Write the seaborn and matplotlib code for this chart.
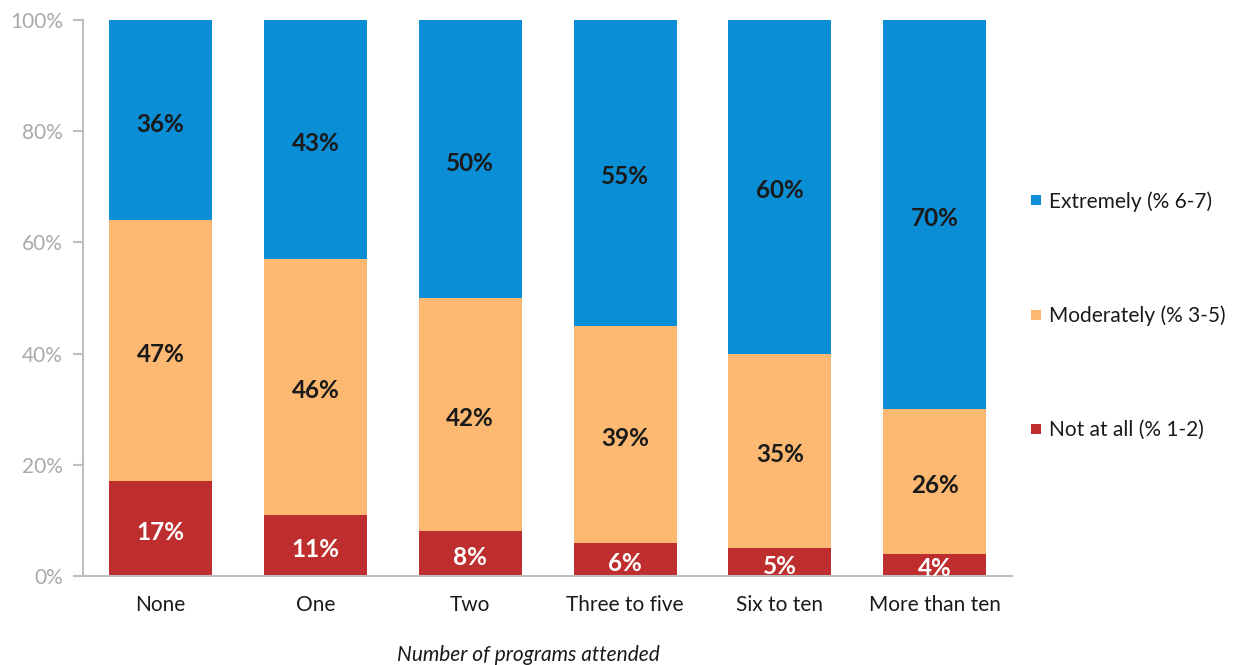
import matplotlib
matplotlib.use("Agg")
import matplotlib.pyplot as plt
from matplotlib.lines import Line2D
import seaborn as sns
import pandas as pd
import numpy as np

categories = ["None", "One", "Two", "Three to five", "Six to ten", "More than ten"]
not_at_all = [17, 11, 8, 6, 5, 4]
moderately = [47, 46, 42, 39, 35, 26]
extremely = [36, 43, 50, 55, 60, 70]
series_names = ["Extremely (% 6-7)", "Moderately (% 3-5)", "Not at all (% 1-2)"]
y_ticks = [0, 20, 40, 60, 80, 100]
x_title = "Number of programs attended"

c_blue = "#0A8ED5"
c_orange = "#FDB971"
c_red = "#BE2E2E"

sns.set_theme(style="white")
plt.rcParams["font.family"] = ["Lato", "DejaVu Sans"]

df = pd.DataFrame({"cat": categories, "red": not_at_all, "orange": moderately, "blue": extremely})
df["cum_red"] = df["red"]
df["cum_orange"] = df["red"] + df["orange"]
df["cum_blue"] = df["red"] + df["orange"] + df["blue"]

fig = plt.figure(figsize=(12.33, 6.65), dpi=100)
ax = fig.add_axes([0.0673, 0.134, 0.821 - 0.0673, 0.836])

w = 0.665
sns.barplot(data=df, x="cat", y="cum_blue", color=c_blue, width=w, ax=ax, saturation=1, linewidth=0)
sns.barplot(data=df, x="cat", y="cum_orange", color=c_orange, width=w, ax=ax, saturation=1, linewidth=0)
sns.barplot(data=df, x="cat", y="cum_red", color=c_red, width=w, ax=ax, saturation=1, linewidth=0)

lab_fs = 17.5
def put(x, y, s, color):
    ax.annotate(s, (x, y), xytext=(0, -1.5), textcoords="offset points", ha="center",
                va="center_baseline", color=color, fontsize=lab_fs, fontweight="bold")

for i in range(len(categories)):
    r, o, b = not_at_all[i], moderately[i], extremely[i]
    put(i, r / 2, f"{r}%", "white")
    put(i, r + o / 2, f"{o}%", "#1a1a1a")
    put(i, r + o + b / 2, f"{b}%", "#1a1a1a")

ax.set_xlim(-0.5, len(categories) - 0.5)
ax.set_ylim(0, 100)
ax.set_yticks(y_ticks)
ax.set_yticklabels([f"{t}%" for t in y_ticks])
ax.set_xlabel("")
ax.set_ylabel("")
ax.tick_params(axis="y", colors="#BFBFBF", labelcolor="#AAAAAA", labelsize=15, length=7, width=1.5, left=True, direction="out", pad=7.5)
ax.tick_params(axis="x", labelsize=15, labelcolor="#1a1a1a", length=0, pad=14)
for s in ["top", "right"]:
    ax.spines[s].set_visible(False)
for s in ["left", "bottom"]:
    ax.spines[s].set_color("#BFBFBF")
    ax.spines[s].set_linewidth(1.5)

fig.text(528 / 1233, 1 - 655 / 665, x_title, ha="center", va="center", fontsize=15, style="italic", color="#1a1a1a")

handles = [Line2D([0], [0], marker="s", linestyle="", markersize=7, markerfacecolor=c, markeredgewidth=0)
           for c in [c_blue, c_orange, c_red]]
fig.legend(handles, series_names, loc="center left", bbox_to_anchor=(1030 / 1233, 1 - 315.5 / 665),
           frameon=False, fontsize=15, labelspacing=4.5, handlelength=0.6, handletextpad=0.3,
           labelcolor="#1a1a1a", borderaxespad=0, borderpad=0)

fig.savefig("out.png", dpi=100)
